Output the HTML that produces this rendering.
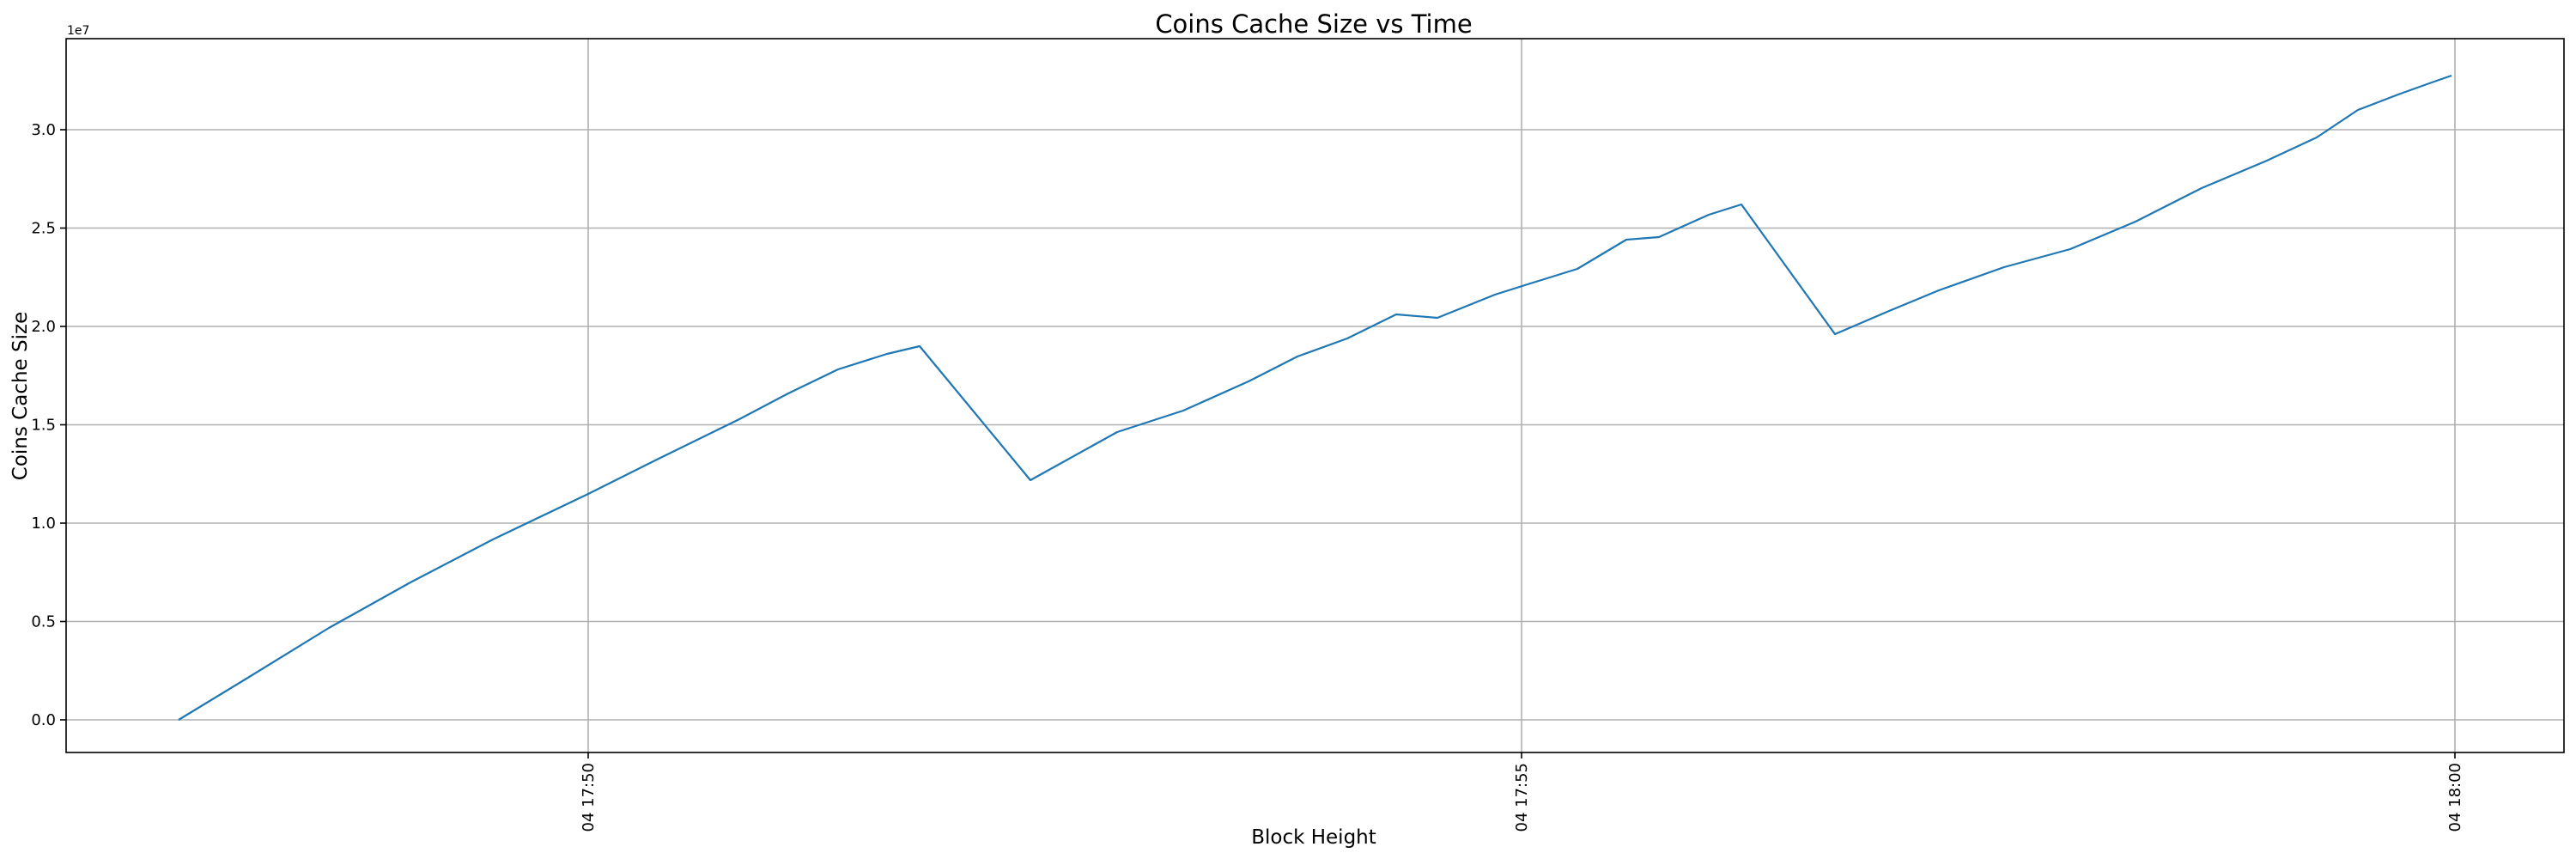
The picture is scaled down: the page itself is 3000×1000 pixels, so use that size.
<!DOCTYPE html>
<html><head><meta charset="utf-8"><style>
html,body{margin:0;padding:0;background:#fff}
svg{display:block}
text{font-family:"DejaVu Sans","Liberation Sans",sans-serif;fill:#000}
</style></head><body>
<svg width="3000" height="1000" viewBox="0 0 3000 1000" xmlns="http://www.w3.org/2000/svg">
<rect width="3000" height="1000" fill="#fff"/>
<g stroke="#b0b0b0" stroke-width="1.6">
<line x1="77" x2="2986" y1="838" y2="838"/>
<line x1="77" x2="2986" y1="723.5" y2="723.5"/>
<line x1="77" x2="2986" y1="609" y2="609"/>
<line x1="77" x2="2986" y1="494.5" y2="494.5"/>
<line x1="77" x2="2986" y1="380" y2="380"/>
<line x1="77" x2="2986" y1="265.5" y2="265.5"/>
<line x1="77" x2="2986" y1="151" y2="151"/>
<line x1="685" x2="685" y1="45" y2="876"/>
<line x1="1772" x2="1772" y1="45" y2="876"/>
<line x1="2859" x2="2859" y1="45" y2="876"/>
</g>
<polyline fill="none" stroke="#1f77b4" stroke-width="2.2" stroke-linejoin="round" points="208,838 287,790 383,731 478,678 574,628 685,575 765,535 861,488 918,458 976,430 1033,412 1071,403 1200,559 1301,503 1378,478 1454,444 1511,415 1569,394 1626,366 1674,370 1741,343 1779,331 1837,313 1894,279 1932,276 1990,250 2028,238 2137,389 2200,362 2258,338 2334,311 2411,290 2487,258 2564,219 2640,187 2698,160 2746,128 2793,110 2832,96 2855,88"/>
<rect x="77" y="45" width="2909" height="831" fill="none" stroke="#000" stroke-width="1.6"/>
<g stroke="#000" stroke-width="1.6">
<line x1="70" x2="77" y1="838" y2="838"/>
<line x1="70" x2="77" y1="723.5" y2="723.5"/>
<line x1="70" x2="77" y1="609" y2="609"/>
<line x1="70" x2="77" y1="494.5" y2="494.5"/>
<line x1="70" x2="77" y1="380" y2="380"/>
<line x1="70" x2="77" y1="265.5" y2="265.5"/>
<line x1="70" x2="77" y1="151" y2="151"/>
<line x1="685" x2="685" y1="876" y2="883"/>
<line x1="1772" x2="1772" y1="876" y2="883"/>
<line x1="2859" x2="2859" y1="876" y2="883"/>
</g>
<g font-size="18" text-anchor="end">
<text x="65" y="844">0.0</text>
<text x="65" y="729.5">0.5</text>
<text x="65" y="615">1.0</text>
<text x="65" y="500.5">1.5</text>
<text x="65" y="386">2.0</text>
<text x="65" y="271.5">2.5</text>
<text x="65" y="157">3.0</text>
</g>
<text x="78" y="40" font-size="14">1e7</text>
<g font-size="18" text-anchor="end">
<text transform="translate(691,888) rotate(-90)">04 17:50</text>
<text transform="translate(1778,888) rotate(-90)">04 17:55</text>
<text transform="translate(2865,888) rotate(-90)">04 18:00</text>
</g>
<text x="1530" y="38" font-size="29" text-anchor="middle">Coins Cache Size vs Time</text>
<text x="1530" y="982" font-size="23" text-anchor="middle">Block Height</text>
<text transform="translate(31,461) rotate(-90)" font-size="23" text-anchor="middle">Coins Cache Size</text>
</svg>
</body></html>
